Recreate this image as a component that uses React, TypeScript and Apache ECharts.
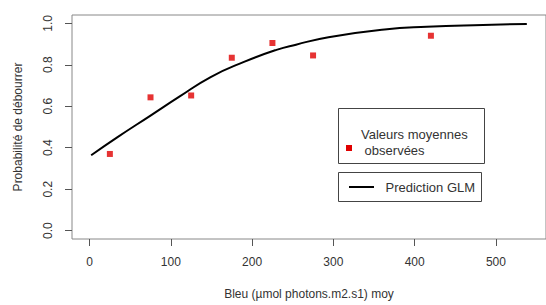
import React, { useEffect, useRef } from "react";
import * as echarts from "echarts";

const obsX = [25, 75, 125, 175, 225, 275, 420];
const obsY = [0.37, 0.643, 0.652, 0.834, 0.905, 0.845, 0.94];

const curveX = [2, 34, 75, 110, 149, 190, 230, 254, 294, 363, 415, 484, 538];
const curveY = [0.364, 0.45, 0.555, 0.645, 0.741, 0.814, 0.872, 0.897, 0.933, 0.97, 0.983, 0.992, 0.997];

const xTicks = [0, 100, 200, 300, 400, 500];
const yTicks = [0, 0.2, 0.4, 0.6, 0.8, 1.0];

const legendObs = ["Valeurs moyennes", " observées"];
const legendFit = "Prediction GLM";

export default function App() {
  const ref = useRef<HTMLDivElement>(null);
  useEffect(() => {
    if (!ref.current) return;
    const chart = echarts.init(ref.current, null, { renderer: "svg" });
    const font = "Liberation Sans, Arial, sans-serif";
    const txt = "#333";
    chart.setOption({
      animation: false,
      backgroundColor: "#fff",
      grid: { left: 72, top: 15, right: -8, bottom: 61, show: true, borderColor: "#888", borderWidth: 1 },
      xAxis: {
        type: "value",
        min: -21.6,
        max: 561.6,
        name: "Bleu (µmol photons.m2.s1) moy",
        nameLocation: "middle",
        nameGap: 49,
        nameTextStyle: { fontFamily: font, fontSize: 12, color: txt },
        axisLine: { show: false, onZero: false },
        splitLine: { show: false },
        axisTick: { show: true, customValues: xTicks, length: 7, inside: false, lineStyle: { color: "#555" } },
        axisLabel: {
          customValues: xTicks,
          margin: 17,
          fontFamily: font,
          fontSize: 12,
          color: txt,
        },
      },
      yAxis: {
        type: "value",
        min: -0.04,
        max: 1.04,
        name: "Probabilité de débourrer",
        nameLocation: "middle",
        nameGap: 48,
        nameRotate: 90,
        nameTextStyle: { fontFamily: font, fontSize: 12, color: txt },
        axisLine: { show: false, onZero: false },
        splitLine: { show: false },
        axisTick: { show: true, customValues: yTicks, length: 7, lineStyle: { color: "#555" } },
        axisLabel: {
          customValues: yTicks,
          rotate: 90,
          margin: 18,
          fontFamily: font,
          fontSize: 12,
          color: txt,
          formatter: (v: number) => v.toFixed(1),
        },
      },
      series: [
        {
          type: "line",
          data: curveX.map((x, i) => [x, curveY[i]]),
          smooth: true,
          showSymbol: false,
          lineStyle: { color: "#000", width: 2 },
          z: 2,
        },
        {
          type: "scatter",
          data: obsX.map((x, i) => [x, obsY[i]]),
          symbol: "rect",
          symbolSize: 6,
          itemStyle: { color: "#e00000" },
          z: 3,
        },
      ],
      graphic: [
        { type: "rect", shape: { x: 338.5, y: 108.5, width: 146, height: 55 }, style: { fill: "#fff", stroke: "#444", lineWidth: 1 }, z: 10 },
        { type: "rect", shape: { x: 346, y: 145, width: 6, height: 6 }, style: { fill: "#e00000" }, z: 11 },
        { type: "text", x: 361, y: 134, style: { text: legendObs[0], fontFamily: font, fontSize: 13, fill: txt, verticalAlign: "middle" }, z: 11 },
        { type: "text", x: 361, y: 150, style: { text: legendObs[1], fontFamily: font, fontSize: 13, fill: txt, verticalAlign: "middle" }, z: 11 },
        { type: "rect", shape: { x: 338.5, y: 172.5, width: 143, height: 29 }, style: { fill: "#fff", stroke: "#444", lineWidth: 1 }, z: 10 },
        { type: "line", shape: { x1: 349, y1: 187, x2: 374, y2: 187 }, style: { stroke: "#000", lineWidth: 2 }, z: 11 },
        { type: "text", x: 385.5, y: 187, style: { text: legendFit, fontFamily: font, fontSize: 13, fill: txt, verticalAlign: "middle" }, z: 11 },
      ],
    });
    return () => chart.dispose();
  }, []);
  return <div ref={ref} style={{ width: 546, height: 305, position: "absolute", left: 0, top: 0 }} />;
}
